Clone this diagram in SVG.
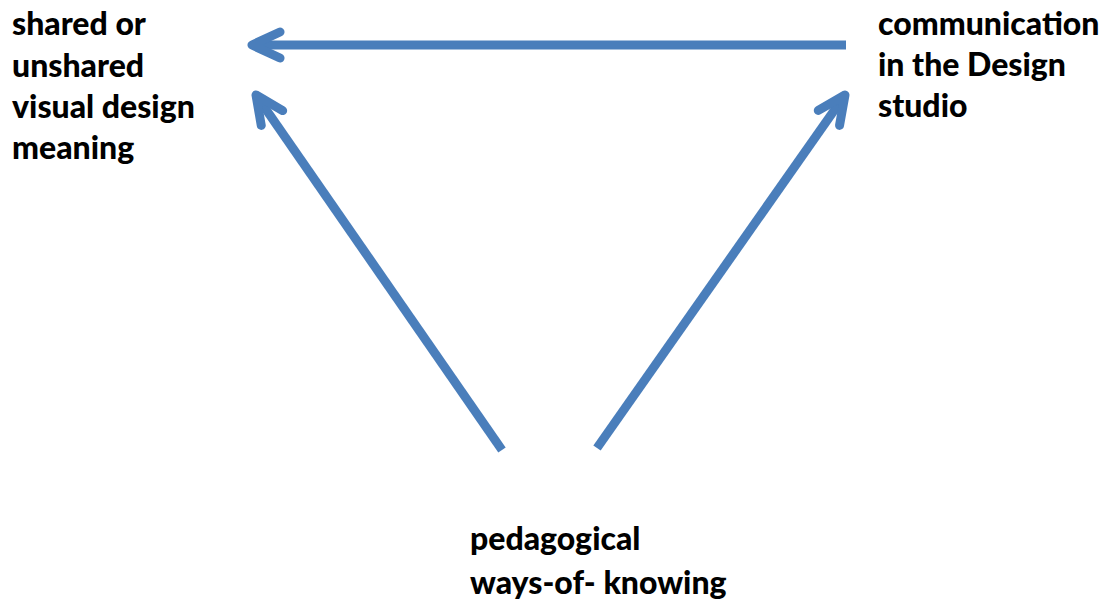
<svg xmlns="http://www.w3.org/2000/svg" width="1115" height="603" viewBox="0 0 1115 603">
  <style>
    .lbl { font-family: Lato, "Open Sans", "Liberation Sans", sans-serif; font-weight: 900; font-size: 32px; fill: #000; }
    .conn { stroke: #4a7ebb; stroke-width: 9; fill: none; stroke-linecap: butt; }
  </style>
  <defs>
    <marker id="head" markerUnits="userSpaceOnUse" viewBox="-40 -25 50 50" markerWidth="50" markerHeight="50" refX="0" refY="0" orient="auto" overflow="visible">
      <path d="M -28 -13 L 0 0 L -28 13" fill="none" stroke="#4a7ebb" stroke-width="9" stroke-linecap="round" stroke-linejoin="round"/>
    </marker>
  </defs>
  <rect width="1115" height="603" fill="#ffffff"/>
  <g id="connectors">
    <line class="conn" x1="846" y1="45" x2="252" y2="45" marker-end="url(#head)"/>
    <line class="conn" x1="502" y1="450" x2="256" y2="95" marker-end="url(#head)"/>
    <line class="conn" x1="597" y1="448" x2="845" y2="95" marker-end="url(#head)"/>
  </g>
  <g id="node-shared">
    <text class="lbl" x="12"><tspan x="12" y="35">shared or</tspan><tspan x="12" y="77">unshared</tspan><tspan x="12" y="118">visual design</tspan><tspan x="12" y="159">meaning</tspan></text>
  </g>
  <g id="node-communication">
    <text class="lbl" x="878"><tspan x="878" y="35">communication</tspan><tspan x="878" y="76">in the Design</tspan><tspan x="878" y="117">studio</tspan></text>
  </g>
  <g id="node-pedagogical">
    <text class="lbl" x="470"><tspan x="470" y="550">pedagogical</tspan><tspan x="470" y="594">ways-of- knowing</tspan></text>
  </g>
</svg>
